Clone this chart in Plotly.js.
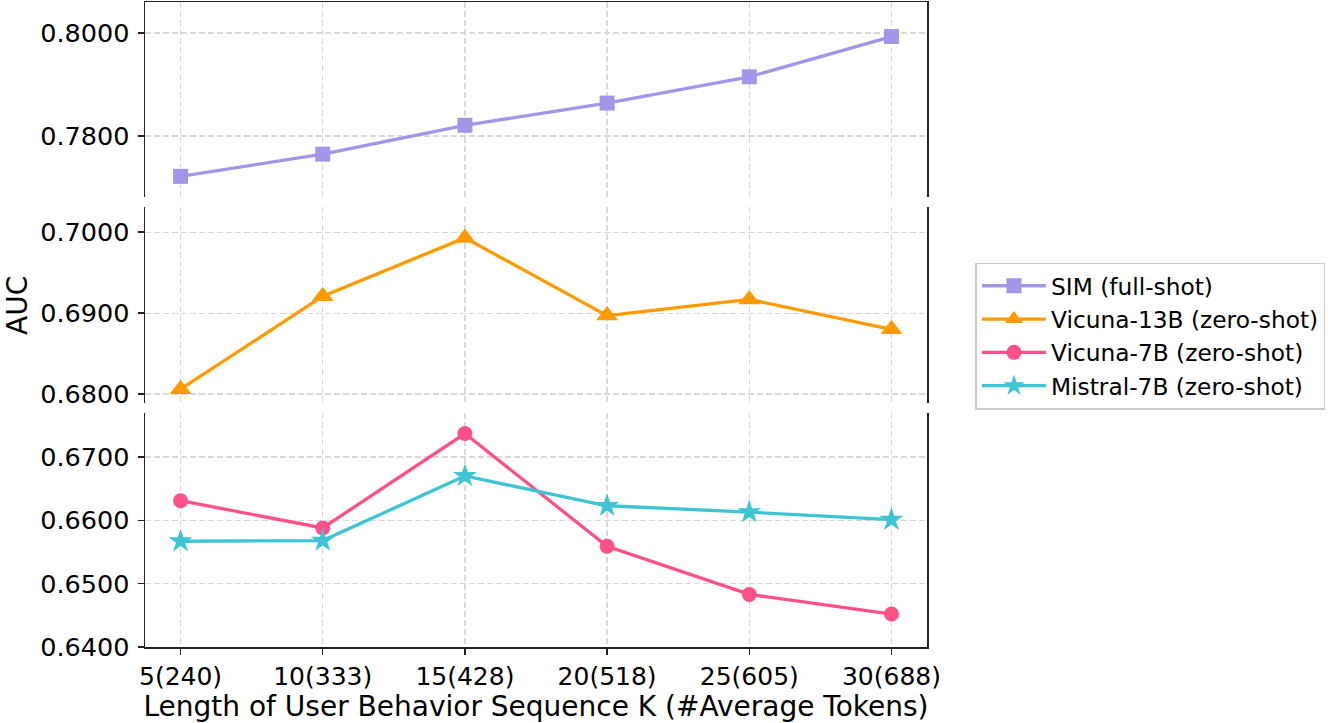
<!DOCTYPE html>
<html>
<head>
<meta charset="utf-8">
<script src="https://cdn.plot.ly/plotly-3.0.1.min.js"></script>
<style>html,body{margin:0;padding:0;background:#fff;}#chart{width:1329px;height:723px;}</style>
</head>
<body>
<div id="chart"></div>
<script>
const categories = ["5(240)", "10(333)", "15(428)", "20(518)", "25(605)", "30(688)"];
const simFull = [0.7722, 0.7765, 0.7821, 0.7864, 0.7915, 0.7993];
const vicuna13B = [0.6806, 0.6921, 0.6993, 0.6897, 0.6917, 0.6880];
const vicuna7B = [0.6631, 0.6588, 0.6737, 0.6559, 0.6483, 0.6452];
const mistral7B = [0.6567, 0.6568, 0.6670, 0.6623, 0.6613, 0.6601];
const seriesNames = ["SIM (full-shot)", "Vicuna-13B (zero-shot)", "Vicuna-7B (zero-shot)", "Mistral-7B (zero-shot)"];
const yTicksTop = [0.78, 0.80];
const yTicksMid = [0.68, 0.69, 0.70];
const yTicksBot = [0.64, 0.65, 0.66, 0.67];

const FONT = "DejaVu Sans, Verdana, sans-serif";
const AXC = "#222222";
const GRID = "#d9d9d9";
const DASH = "6px,3px";

function trace(y, name, color, symbol, size, xa, ya) {
  return {
    x: categories, y: y, name: name, type: "scatter", mode: "lines+markers",
    xaxis: xa, yaxis: ya,
    line: {color: color, width: 3.3},
    marker: {color: color, symbol: symbol, size: size, line: {width: 0}},
    cliponaxis: false
  };
}

const data = [
  trace(simFull, seriesNames[0], "#A595E9", "square", 15, "x3", "y3"),
  trace(vicuna13B, seriesNames[1], "#FF9B00", "triangle-up", 19, "x2", "y2"),
  trace(vicuna7B, seriesNames[2], "#FF5185", "circle", 15, "x", "y"),
  trace(mistral7B, seriesNames[3], "#3FC4D4", "star", 18, "x", "y")
];

const xCommon = {
  type: "category", range: [-0.25, 5.25],
  showgrid: true, gridcolor: GRID, griddash: DASH, gridwidth: 1.3,
  zeroline: false, tickfont: {family: FONT, size: 25, color: "#000"},
  linecolor: AXC, linewidth: 1.5
};
function yCommon(domain, vals, range) {
  return {
    domain: domain, range: range, tickvals: vals, tickformat: ".4f",
    showgrid: true, gridcolor: GRID, griddash: DASH, gridwidth: 1.3,
    zeroline: false, showline: true, mirror: true, linecolor: AXC, linewidth: 1.5,
    ticks: "outside", ticklen: 6, tickwidth: 1.5, tickcolor: AXC, ticklabelstandoff: 3,
    tickfont: {family: FONT, size: 25.5, color: "#000"}
  };
}

const layout = {
  width: 1329, height: 723,
  margin: {l: 145, r: 402, t: 2, b: 76},
  paper_bgcolor: "#fff", plot_bgcolor: "#fff",
  font: {family: FONT, color: "#000"},
  showlegend: true,
  legend: {
    x: 1.062, y: 0.482, xanchor: "left", yanchor: "middle",
    bordercolor: "#cccccc", borderwidth: 1.5, bgcolor: "#fff",
    font: {family: FONT, size: 23.3, color: "#000"}, itemwidth: 64
  },
  xaxis: Object.assign({}, xCommon, {
    anchor: "y", showline: true, ticks: "outside", ticklen: 6, tickwidth: 1.5, tickcolor: AXC,
    title: {text: "Length of User Behavior Sequence K (#Average Tokens)", font: {family: FONT, size: 28, color: "#000"}, standoff: 6}
  }),
  xaxis2: Object.assign({}, xCommon, {anchor: "y2", matches: "x", showticklabels: false, showline: false, ticks: ""}),
  xaxis3: Object.assign({}, xCommon, {anchor: "y3", matches: "x", showticklabels: false, showline: true, side: "top", ticks: ""}),
  yaxis: yCommon([0, 0.3633], yTicksBot, [0.6400, 0.6770]),
  yaxis2: yCommon([0.3783, 0.6822], yTicksMid, [0.6789, 0.70312]),
  yaxis3: yCommon([0.6977, 1.0], yTicksTop, [0.7682, 0.8060]),
  annotations: [{
    text: "AUC", xref: "paper", yref: "paper", x: -0.164, y: 0.53,
    xanchor: "center", yanchor: "middle", textangle: -90, showarrow: false,
    font: {family: FONT, size: 28, color: "#000"}
  }]
};

Plotly.newPlot("chart", data, layout, {displayModeBar: false, staticPlot: true});
</script>
</body>
</html>
